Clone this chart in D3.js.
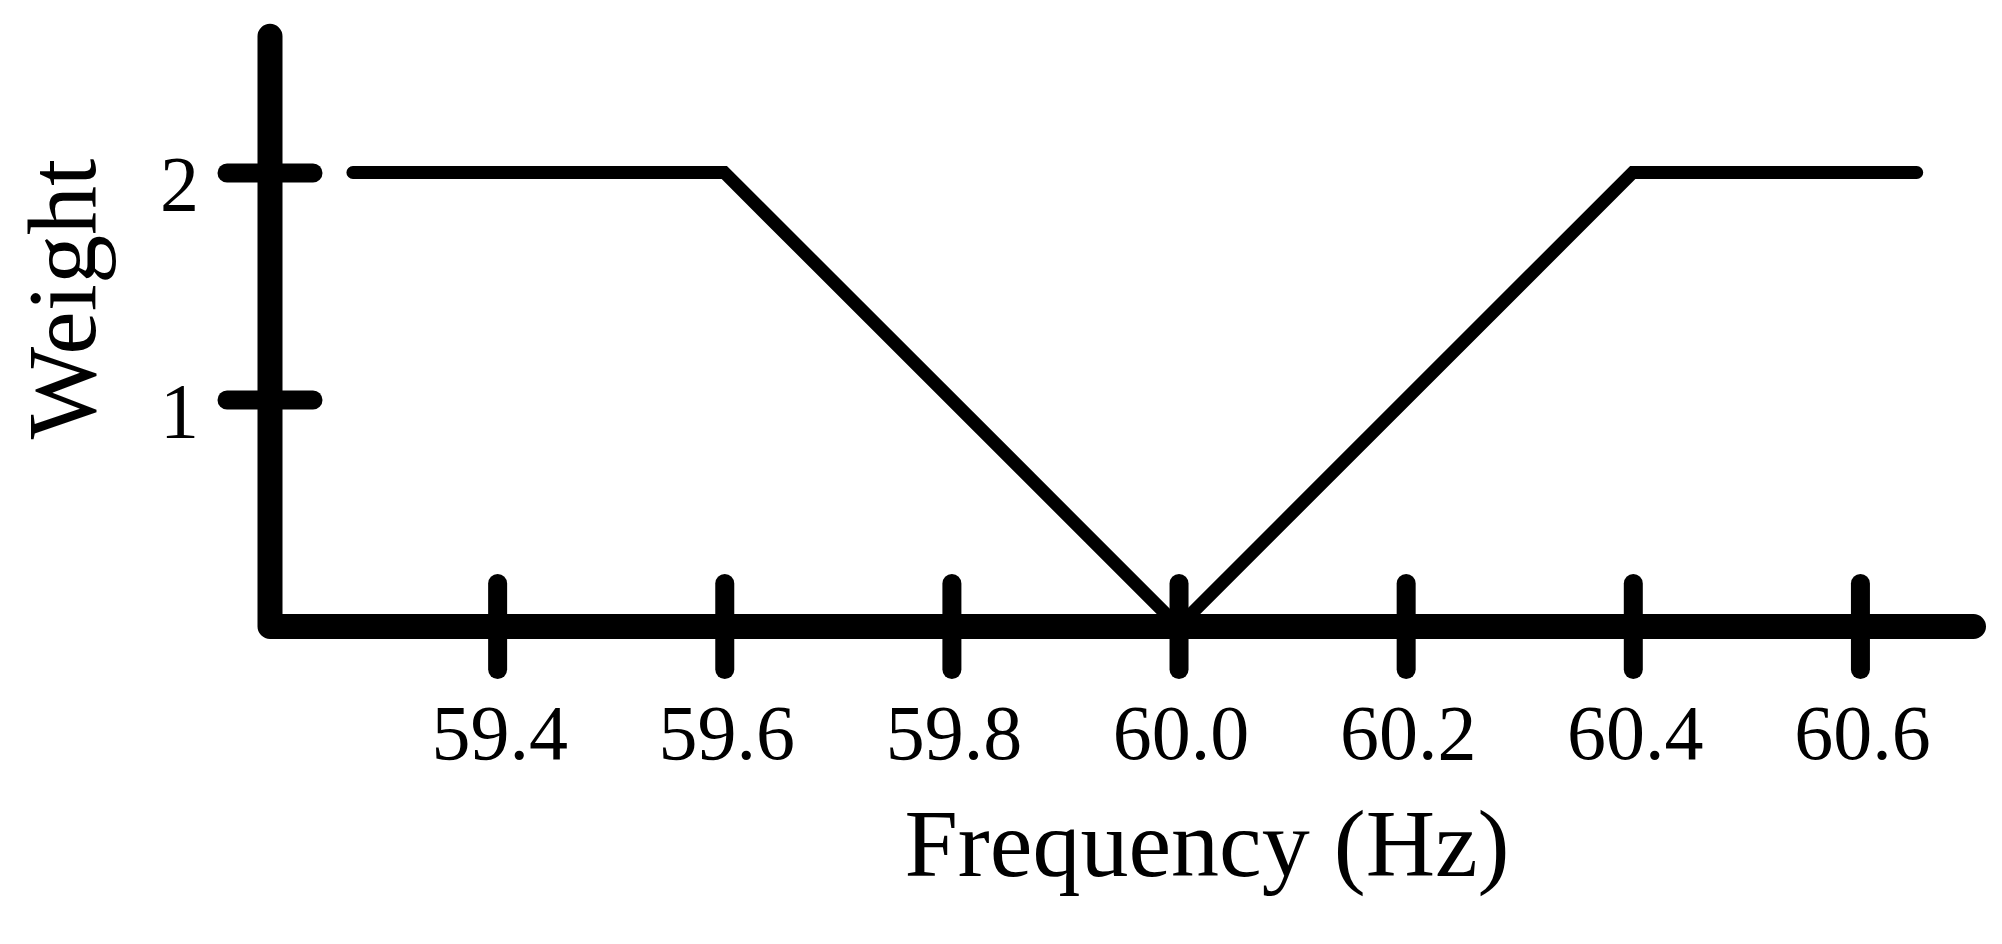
<!DOCTYPE html>
<html>
<head>
<meta charset="utf-8">
<script src="https://cdn.jsdelivr.net/npm/d3@7"></script>
<style>
  html, body { margin: 0; padding: 0; background: #fff; }
  svg { display: block; }
  text { font-family: "Liberation Serif", "Times New Roman", serif; fill: #000; }
</style>
</head>
<body>
<svg id="chart" width="2002" height="944"></svg>
<script>
// Data
const freq = [59.273, 59.6, 60.0, 60.4, 60.65];
const weight = [2, 2, 0, 2, 2];
const xTicks = [59.4, 59.6, 59.8, 60.0, 60.2, 60.4, 60.6];
const yTicks = [1, 2];
const xLabel = "Frequency (Hz)";
const yLabel = "Weight";

const svg = d3.select("#chart");
const x = d3.scaleLinear().domain([59.2, 60.7]).range([270, 1973.5]);
const y = d3.scaleLinear().domain([0, 2.6]).range([626.5, 36.3]);

// Axis spines (single path with rounded join)
svg.append("path")
  .attr("d", `M${x(59.2)},${y(2.6)} L${x(59.2)},${y(0)} L${x(60.7)},${y(0)}`)
  .attr("fill", "none").attr("stroke", "#000").attr("stroke-width", 25)
  .attr("stroke-linecap", "round").attr("stroke-linejoin", "round");

// X axis
const gx = svg.append("g").attr("transform", `translate(0,${y(0)})`)
  .call(d3.axisBottom(x).tickValues(xTicks).tickFormat(d3.format(".1f")).tickSizeOuter(0));
gx.select(".domain").remove();
gx.selectAll(".tick line")
  .attr("y1", -43).attr("y2", 43)
  .attr("stroke", "#000").attr("stroke-width", 19).attr("stroke-linecap", "round");
gx.selectAll(".tick text")
  .attr("y", 759 - y(0)).attr("dy", null).attr("dx", 2)
  .attr("font-size", 78).attr("font-family", "Liberation Serif").attr("fill", "#000");

// Y axis
const gy = svg.append("g").attr("transform", `translate(${x(59.2)},0)`)
  .call(d3.axisLeft(y).tickValues(yTicks).tickFormat(d3.format("d")).tickSizeOuter(0));
gy.select(".domain").remove();
gy.selectAll(".tick line")
  .attr("x1", -43).attr("x2", 43)
  .attr("stroke", "#000").attr("stroke-width", 19).attr("stroke-linecap", "round");
gy.selectAll(".tick text")
  .attr("x", 199 - x(59.2)).attr("dy", null).attr("y", 36.5)
  .attr("text-anchor", "end")
  .attr("font-size", 78).attr("font-family", "Liberation Serif").attr("fill", "#000");

// Data line
const line = d3.line().x((d, i) => x(freq[i])).y((d, i) => y(weight[i]));
svg.append("path")
  .datum(freq)
  .attr("d", line)
  .attr("fill", "none").attr("stroke", "#000").attr("stroke-width", 13)
  .attr("stroke-linecap", "round").attr("stroke-linejoin", "miter");

// Axis titles
svg.append("text")
  .attr("x", 1207).attr("y", 876)
  .attr("text-anchor", "middle").attr("font-size", 96)
  .text(xLabel);

svg.append("text")
  .attr("transform", "translate(95,299) rotate(-90)")
  .attr("text-anchor", "middle").attr("font-size", 98)
  .text(yLabel);
</script>
</body>
</html>
